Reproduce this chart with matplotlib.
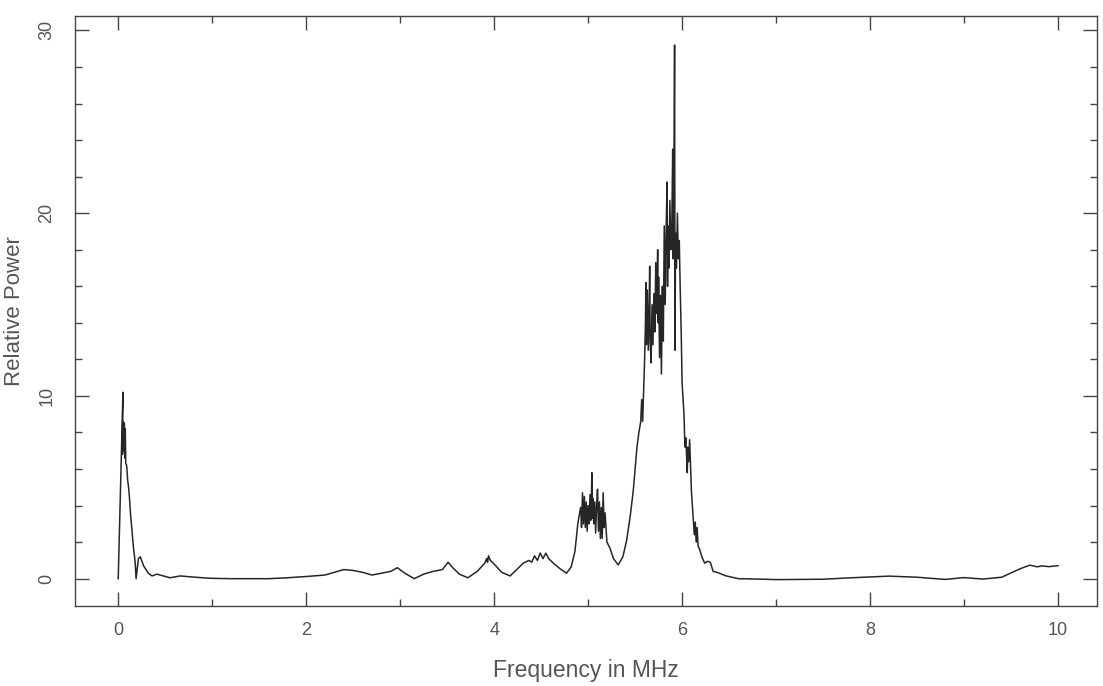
import matplotlib
matplotlib.use("Agg")
import matplotlib.pyplot as plt
from matplotlib.ticker import MultipleLocator

plt.rcParams.update({
    "font.family": ["Liberation Sans", "DejaVu Sans"],
    "axes.linewidth": 1.0,
})

# spectrum (MHz, relative power)
freq = [
    0.00, 0.05, 0.045, 0.055, 0.06, 0.065, 0.07, 0.075, 0.08, 0.09,
    0.10, 0.11, 0.12, 0.13, 0.145, 0.16, 0.18, 0.19, 0.215, 0.235,
    0.27, 0.32, 0.36, 0.41, 0.48, 0.55, 0.66, 0.77, 0.90, 1.00,
    1.20, 1.40, 1.60, 1.80, 2.00, 2.20, 2.30, 2.40, 2.50, 2.60,
    2.70, 2.80, 2.90, 2.97, 3.05, 3.15, 3.25, 3.35, 3.45, 3.51,
    3.56, 3.63, 3.72, 3.82, 3.90, 3.92, 3.93, 3.94, 3.96, 4.00,
    4.08, 4.17, 4.25, 4.31, 4.37, 4.40, 4.43, 4.46, 4.49, 4.52,
    4.55, 4.58, 4.63, 4.70, 4.77, 4.82, 4.86, 4.89, 4.92, 4.93,
    4.94, 4.95, 4.96, 4.97, 4.98, 4.99, 5.00, 5.01, 5.02, 5.03,
    5.04, 5.045, 5.05, 5.06, 5.07, 5.08, 5.09, 5.10, 5.11, 5.12,
    5.13, 5.14, 5.15, 5.16, 5.17, 5.18, 5.20, 5.23, 5.27, 5.32,
    5.37, 5.41, 5.45, 5.48, 5.50, 5.52, 5.54, 5.56, 5.57, 5.58,
    5.60, 5.61, 5.615, 5.62, 5.63, 5.64, 5.65, 5.655, 5.66, 5.67,
    5.68, 5.69, 5.70, 5.71, 5.72, 5.73, 5.74, 5.745, 5.75, 5.76,
    5.77, 5.78, 5.79, 5.80, 5.81, 5.82, 5.83, 5.84, 5.845, 5.85,
    5.86, 5.87, 5.88, 5.89, 5.90, 5.905, 5.91, 5.92, 5.925, 5.93,
    5.94, 5.95, 5.96, 5.97, 5.98, 5.99, 6.00, 6.01, 6.02, 6.03,
    6.04, 6.05, 6.055, 6.06, 6.07, 6.08, 6.09, 6.10, 6.12, 6.13,
    6.14, 6.15, 6.16, 6.17, 6.19, 6.21, 6.24, 6.27, 6.30, 6.33,
    6.37, 6.47, 6.60, 6.80, 7.00, 7.50, 7.80, 8.20, 8.50, 8.80,
    9.00, 9.20, 9.40, 9.60, 9.70, 9.78, 9.83, 9.90, 10.00,
]
power = [
    0.0, 10.2, 6.8, 8.6, 7.0, 8.5, 6.6, 8.2, 6.3, 6.2,
    5.4, 5.0, 4.4, 3.6, 2.7, 1.8, 0.9, 0.0, 1.1, 1.2,
    0.7, 0.3, 0.15, 0.25, 0.15, 0.05, 0.15, 0.1, 0.05, 0.02,
    0.0, 0.0, 0.0, 0.05, 0.12, 0.2, 0.35, 0.5, 0.45, 0.35,
    0.2, 0.3, 0.4, 0.6, 0.3, 0.0, 0.25, 0.4, 0.5, 0.9,
    0.6, 0.25, 0.05, 0.4, 0.85, 1.1, 0.9, 1.25, 1.0, 0.8,
    0.35, 0.15, 0.55, 0.85, 1.0, 0.9, 1.25, 1.0, 1.4, 1.1,
    1.4, 1.1, 0.85, 0.55, 0.3, 0.65, 1.5, 3.0, 3.9, 2.8,
    4.7, 3.0, 4.5, 2.8, 4.2, 2.6, 4.0, 3.0, 4.6, 3.2,
    5.8, 3.3, 4.4, 3.0, 4.2, 2.5, 4.0, 4.9, 2.6, 4.2,
    2.2, 3.9, 2.2, 4.7, 2.8, 3.6, 2.0, 1.7, 1.1, 0.75,
    1.2, 2.1, 3.5, 4.8, 6.0, 7.2, 8.0, 8.6, 9.8, 8.6,
    11.8, 14.0, 16.2, 12.8, 15.8, 12.5, 15.0, 17.1, 13.0, 11.8,
    15.0, 12.8, 15.6, 13.5, 17.3, 14.5, 18.0, 14.0, 16.5, 12.1,
    15.5, 11.2, 16.0, 13.0, 19.3, 15.0, 19.0, 21.7, 16.0, 19.3,
    17.0, 20.7, 18.0, 19.0, 23.5, 17.5, 19.0, 29.2, 12.5, 18.9,
    17.0, 20.0, 17.5, 18.5, 15.8, 13.6, 10.7, 9.8, 9.0, 7.2,
    7.7, 6.5, 5.8, 7.2, 6.4, 7.6, 6.1, 4.7, 3.2, 2.4,
    3.1, 2.0, 2.8, 1.8, 1.55, 1.2, 0.85, 0.95, 0.9, 0.4,
    0.35, 0.15, 0.0, -0.02, -0.05, -0.03, 0.05, 0.14, 0.08, -0.04,
    0.06, -0.02, 0.08, 0.55, 0.74, 0.65, 0.7, 0.66, 0.71,
]

x_major = [0, 2, 4, 6, 8, 10]
y_major = [0, 10, 20, 30]

fig = plt.figure(figsize=(11.03, 6.86), dpi=100)
ax = fig.add_axes([0.068, 0.117, 0.927, 0.86])
ax.plot(freq, power, color="#262626", lw=1.1)

ax.set_xlim(-0.46, 10.42)
ax.set_ylim(-1.48, 30.8)
ax.set_xticks(x_major)
ax.set_yticks(y_major)
ax.xaxis.set_minor_locator(MultipleLocator(1))
ax.yaxis.set_minor_locator(MultipleLocator(2))

ax.tick_params(which="both", direction="in", top=True, right=True,
               colors="#444444", labelcolor="#555555", width=1.0)
ax.tick_params(which="major", length=10, labelsize=13)
ax.tick_params(which="minor", length=5)
ax.tick_params(axis="x", pad=12)
ax.tick_params(axis="y", pad=14)
for lab in ax.get_yticklabels():
    lab.set_rotation(90)
    lab.set_va("center")
for sp in ax.spines.values():
    sp.set_color("#444444")

ax.set_xlabel("Frequency in MHz", fontsize=16.5, color="#555555", labelpad=14)
ax.set_ylabel("Relative Power", fontsize=16, color="#555555", labelpad=10)

fig.savefig("out.png", dpi=100)
